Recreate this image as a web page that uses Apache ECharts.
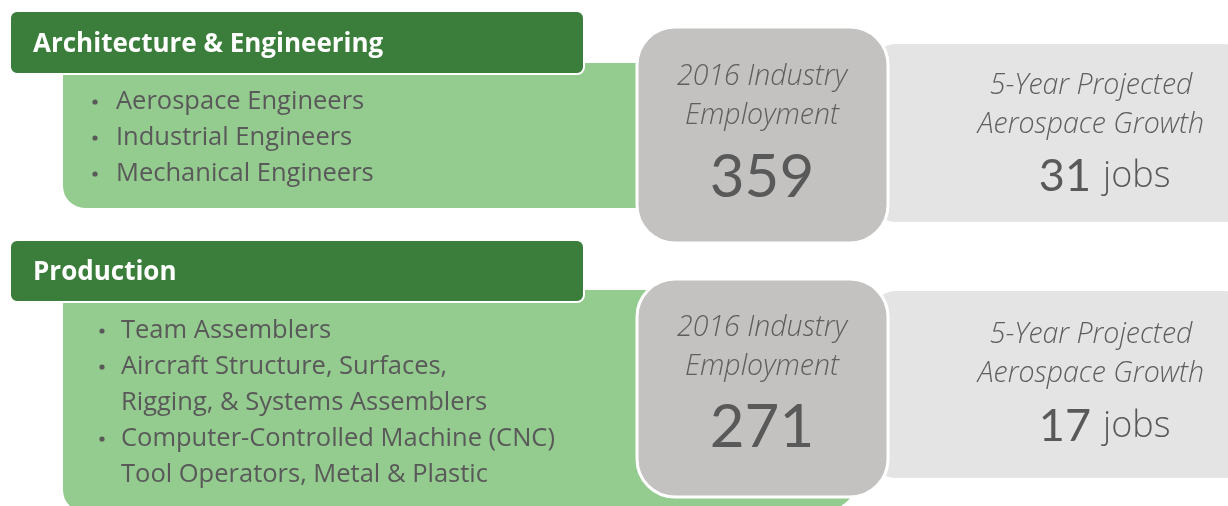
<!DOCTYPE html>
<html>
<head>
<meta charset="utf-8">
<script src="https://cdn.jsdelivr.net/npm/echarts@6/dist/echarts.min.js"></script>
<style>
  html, body { margin: 0; padding: 0; background: #fff; }
  #main { width: 1228px; height: 506px; }
</style>
</head>
<body>
<div id="main"></div>
<script>
// data
const categories = ['Architecture & Engineering', 'Production']
const occupations = [
    [['Aerospace Engineers'], ['Industrial Engineers'], ['Mechanical Engineers']],
    [['Team Assemblers'],
     ['Aircraft Structure, Surfaces,', 'Rigging, & Systems Assemblers'],
     ['Computer-Controlled Machine (CNC)', 'Tool Operators, Metal & Plastic']]
]
const employment = [359, 271]
const growth = [31, 17]
const employmentLabel = ['2016 Industry', 'Employment']
const growthLabel = ['5-Year Projected', 'Aerospace Growth']
const growthUnit = 'jobs'

// layout of each block (pixels)
const layout = [
    { head: 11, headH: 63, body: 63, bodyH: 145, bodyW: 577, bodyR: [0, 0, 0, 22],
      box: 27, boxH: 216, pane: 44, paneH: 178, bulletX: 93, textX: 116, line0: 102,
      empY: [77, 116], numY: 178, growY: [86, 125], jobsY: 176 },
    { head: 240, headH: 62, body: 290, bodyH: 222, bodyW: 797, bodyR: [0, 0, 40, 22],
      box: 279, boxH: 218, pane: 291, paneH: 187, bulletX: 100, textX: 121, line0: 331,
      empY: [328, 367], numY: 428, growY: [335, 374], jobsY: 426 }
]

const SANS = '"Open Sans", Lato, sans-serif'
const NUM = 'Lato, "Open Sans", sans-serif'
const TEXT = '#595959'
const lineStep = 36

const elements = []
categories.forEach((cat, i) => {
    const L = layout[i]
    // light grey pane behind
    elements.push({
        type: 'rect', z: 1,
        shape: { x: 870, y: L.pane, width: 380, height: L.paneH, r: 26 },
        style: { fill: '#E4E4E4' }
    })
    // light green body
    elements.push({
        type: 'rect', z: 2,
        shape: { x: 63, y: L.body, width: L.bodyW, height: L.bodyH, r: L.bodyR },
        style: { fill: '#94CB8F' }
    })
    // dark green header
    elements.push({
        type: 'rect', z: 3,
        shape: { x: 10, y: L.head, width: 574, height: L.headH, r: 7 },
        style: { fill: '#3B7D3B', stroke: '#fff', lineWidth: 2 }
    })
    elements.push({
        type: 'text', z: 4,
        style: { text: cat, x: 33, y: L.head + L.headH / 2 + 2, fill: '#fff',
            font: 'bold 26px ' + SANS, textVerticalAlign: 'middle' }
    })
    // bullets
    let row = 0
    occupations[i].forEach(item => {
        item.forEach((line, k) => {
            const y = L.line0 + row * lineStep
            if (k === 0) {
                elements.push({
                    type: 'circle', z: 4,
                    shape: { cx: L.bulletX + 2, cy: y, r: 2.6 },
                    style: { fill: TEXT }
                })
            }
            elements.push({
                type: 'text', z: 4,
                style: { text: line, x: L.textX, y: y, fill: TEXT,
                    font: '25.5px ' + SANS, textVerticalAlign: 'middle' }
            })
            row++
        })
    })
    // dark grey employment box
    elements.push({
        type: 'rect', z: 5,
        shape: { x: 637, y: L.box, width: 251, height: L.boxH, r: 38 },
        style: { fill: '#C3C2C0', stroke: '#fff', lineWidth: 3 }
    })
    employmentLabel.forEach((t, k) => {
        elements.push({
            type: 'text', z: 6,
            style: { text: t, x: 762, y: L.empY[k], fill: '#5e5e5e',
                font: 'italic 300 28.5px ' + SANS, textAlign: 'center', textVerticalAlign: 'middle' }
        })
    })
    elements.push({
        type: 'text', z: 6,
        style: { text: String(employment[i]), x: 762, y: L.numY, fill: TEXT,
            font: '60px ' + NUM, textAlign: 'center', textVerticalAlign: 'middle' }
    })
    // growth text
    growthLabel.forEach((t, k) => {
        elements.push({
            type: 'text', z: 6,
            style: { text: t, x: 1091, y: L.growY[k], fill: '#5e5e5e',
                font: 'italic 300 28.5px ' + SANS, textAlign: 'center', textVerticalAlign: 'middle' }
        })
    })
    elements.push({
        type: 'text', z: 6,
        style: { text: String(growth[i]), x: 1091, y: L.jobsY, fill: TEXT,
            font: '45px ' + NUM, textAlign: 'right', textVerticalAlign: 'middle' }
    })
    elements.push({
        type: 'text', z: 6,
        style: { text: growthUnit, x: 1103, y: L.jobsY + 1, fill: TEXT,
            font: '300 36px ' + SANS, textAlign: 'left', textVerticalAlign: 'middle' }
    })
})

const chart = echarts.init(document.getElementById('main'))
chart.setOption({
    animation: false,
    graphic: { elements: elements }
})
</script>
</body>
</html>
